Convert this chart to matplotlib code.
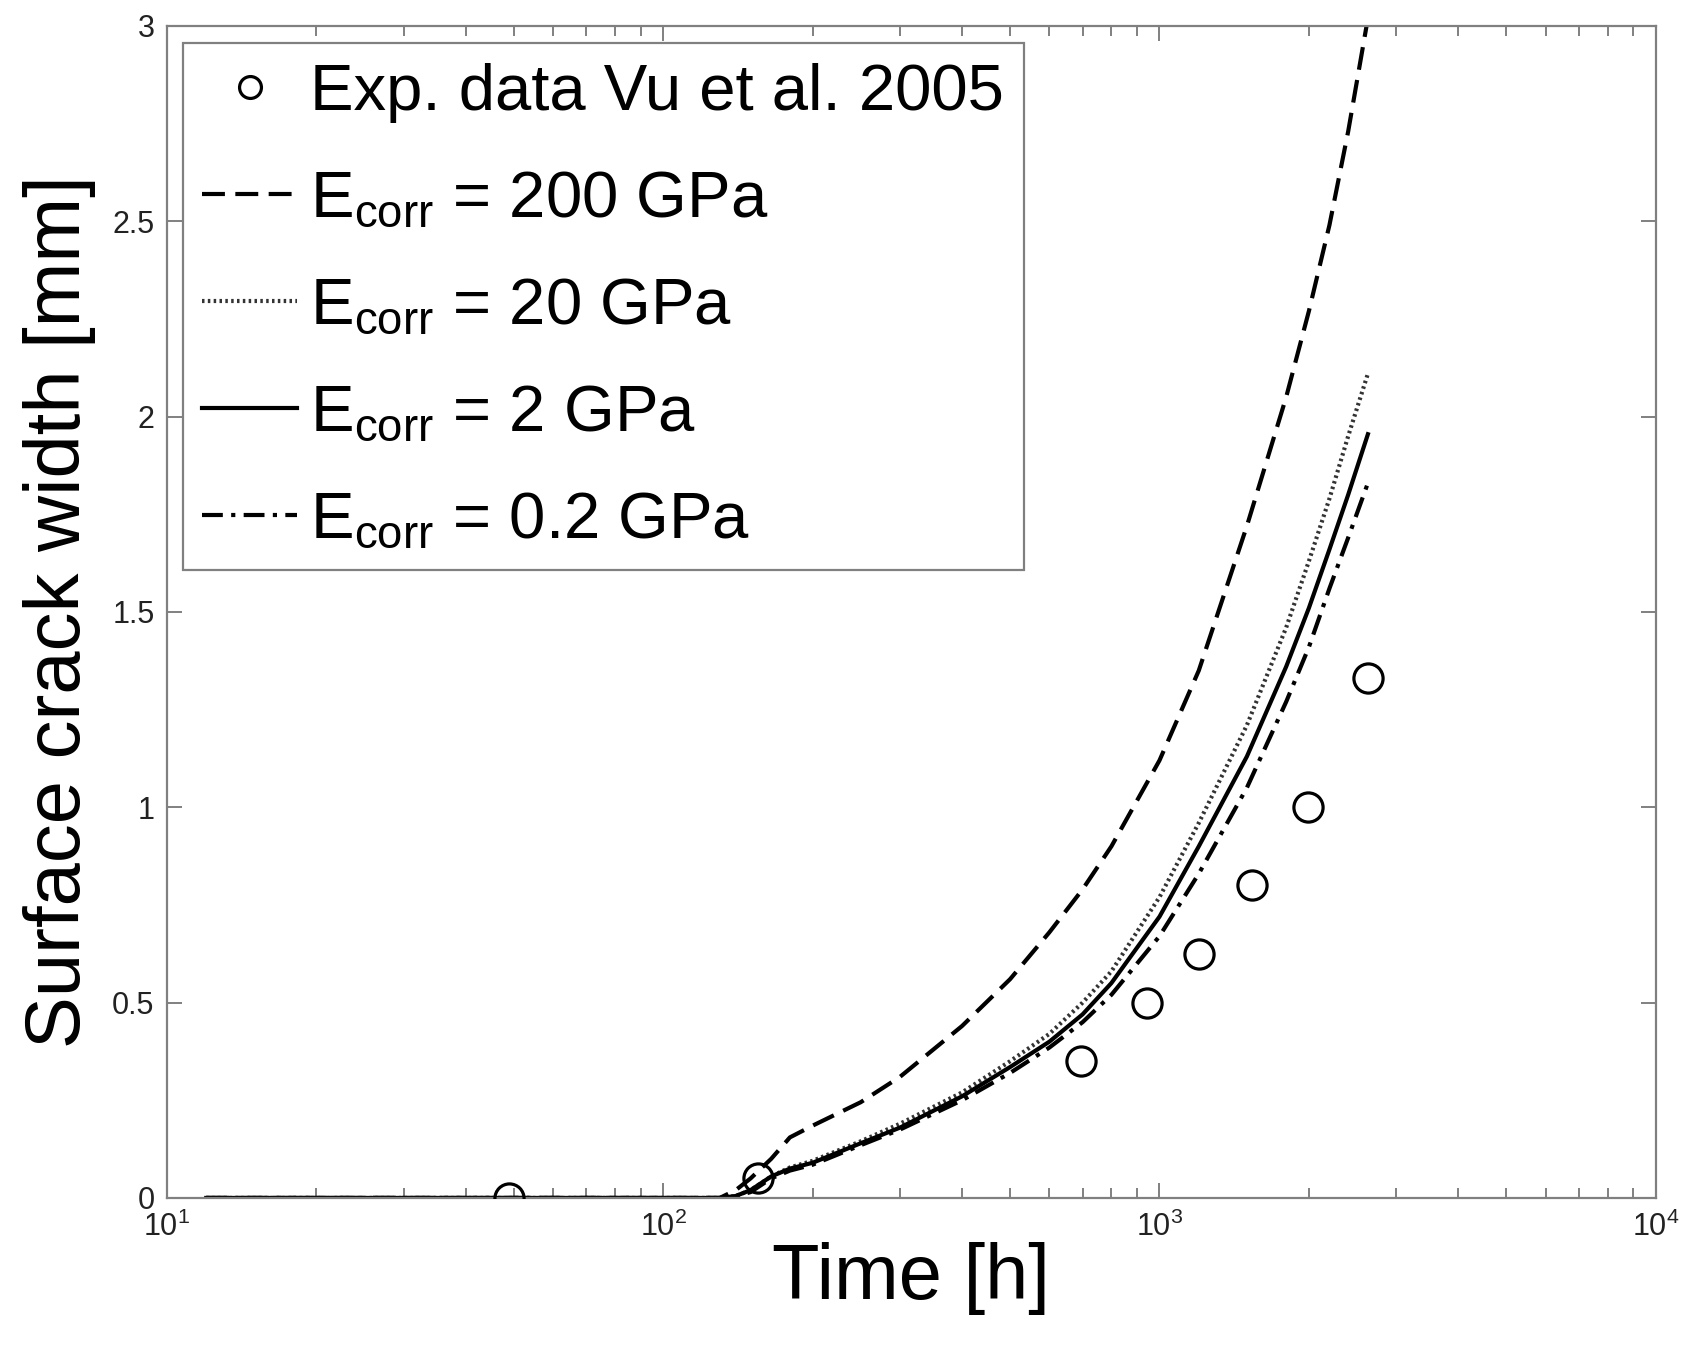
import matplotlib
matplotlib.use('Agg')
import matplotlib.pyplot as plt
from matplotlib.ticker import LogLocator, NullFormatter

plt.rcParams['font.family'] = ['Liberation Sans', 'DejaVu Sans']
plt.rcParams['mathtext.fontset'] = 'custom'
plt.rcParams['mathtext.rm'] = 'Liberation Sans'
plt.rcParams['mathtext.it'] = 'Liberation Sans:italic'
plt.rcParams['mathtext.bf'] = 'Liberation Sans:bold'

# experimental points, Vu et al. 2005
time_exp = [49, 155, 695, 942, 1200, 1535, 1990, 2630]
width_exp = [0, 0.05, 0.35, 0.5, 0.625, 0.8, 1.0, 1.33]

# model results for the four corrosion product stiffnesses
time_model = [12, 130, 140, 150, 165, 180, 200, 250, 300, 400, 500, 600,
              700, 800, 1000, 1200, 1500, 1800, 2000, 2200, 2400, 2630]
w_200 = [0, 0, 0.02, 0.05, 0.10, 0.155, 0.185, 0.245, 0.31, 0.44, 0.56, 0.68,
         0.79, 0.90, 1.12, 1.35, 1.72, 2.05, 2.27, 2.49, 2.73, 3.02]
w_20 = [0, 0, 0.005, 0.02, 0.055, 0.078, 0.095, 0.145, 0.19, 0.27, 0.35, 0.42,
        0.50, 0.58, 0.77, 0.96, 1.21, 1.46, 1.63, 1.79, 1.95, 2.11]
w_2 = [0, 0, 0.005, 0.02, 0.055, 0.075, 0.09, 0.14, 0.18, 0.26, 0.335, 0.40,
       0.47, 0.55, 0.72, 0.90, 1.13, 1.36, 1.51, 1.66, 1.80, 1.955]
w_02 = [0, 0, 0.004, 0.015, 0.05, 0.07, 0.085, 0.135, 0.175, 0.25, 0.32, 0.385,
        0.45, 0.52, 0.67, 0.83, 1.05, 1.27, 1.41, 1.56, 1.69, 1.83]

legend_labels = ['Exp. data Vu et al. 2005',
                 r'E$_{\mathrm{corr}}$ = 200 GPa',
                 r'E$_{\mathrm{corr}}$ = 20 GPa',
                 r'E$_{\mathrm{corr}}$ = 2 GPa',
                 r'E$_{\mathrm{corr}}$ = 0.2 GPa']

y_ticks = [0, 0.5, 1, 1.5, 2, 2.5, 3]
y_ticklabels = ['0', '0.5', '1', '1.5', '2', '2.5', '3']
x_ticks = [10, 100, 1000, 10000]
x_ticklabels = [r'$10^{1}$', r'$10^{2}$', r'$10^{3}$', r'$10^{4}$']

fig = plt.figure(figsize=(16.88, 13.46), dpi=100)
ax = fig.add_axes([0.0989, 0.110, 0.882, 0.8707])

ax.plot(time_exp, width_exp, 'o', mfc='none', mec='black', ms=21, mew=2.3,
        label=legend_labels[0], zorder=5)
ax.plot(time_model, w_200, color='black', lw=3, ls=(0, (5.5, 2.5)), label=legend_labels[1])
ax.plot(time_model, w_20, color='#333333', lw=3, ls=(0, (0.6, 0.8)), label=legend_labels[2])
ax.plot(time_model, w_2, color='black', lw=3, ls='-', label=legend_labels[3])
ax.plot(time_model, w_02, color='black', lw=3, ls=(0, (5, 2, 1, 2)), label=legend_labels[4])

ax.set_xscale('log')
ax.set_xlim(10, 10000)
ax.set_ylim(0, 3)
ax.set_xticks(x_ticks)
ax.set_xticklabels(x_ticklabels)
ax.xaxis.set_minor_locator(LogLocator(base=10, subs=range(2, 10)))
ax.xaxis.set_minor_formatter(NullFormatter())
ax.set_yticks(y_ticks)
ax.set_yticklabels(y_ticklabels)

grey = '#808080'
for sp in ax.spines.values():
    sp.set_color(grey)
    sp.set_linewidth(1.6)
ax.tick_params(which='both', direction='in', top=True, right=True, color=grey,
               width=1.4, labelcolor='#222222', labelsize=22)
ax.tick_params(which='major', length=11)
ax.tick_params(which='minor', length=7)
ax.tick_params(axis='y', pad=9)
ax.tick_params(axis='x', pad=10)

ax.set_xlabel('Time [h]', fontsize=56)
ax.set_ylabel('Surface crack width [mm]', fontsize=56)
ax.xaxis.set_label_coords(0.5, -0.0375)
ax.yaxis.set_label_coords(-0.0477, 0.5)

leg = ax.legend(loc='upper left', bbox_to_anchor=(0.0107, 0.9855), borderaxespad=0,
                fontsize=47, fancybox=False, edgecolor=grey, framealpha=1,
                handlelength=1.45, handletextpad=0.2, labelspacing=0.72,
                borderpad=0.3, markerscale=0.75)
leg.get_frame().set_linewidth(1.6)

fig.savefig('out.png', dpi=100)
